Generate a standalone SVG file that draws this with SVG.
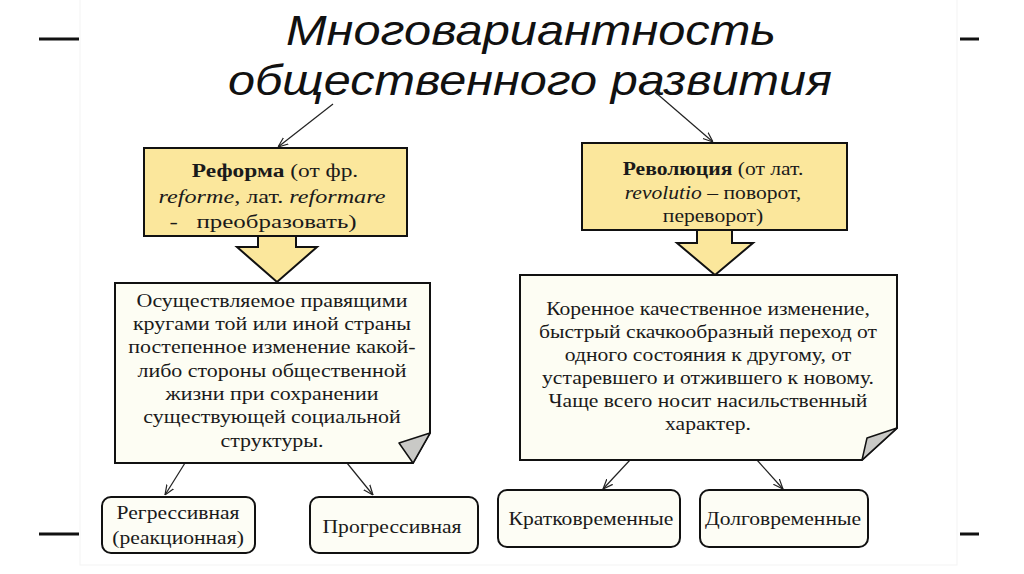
<svg xmlns="http://www.w3.org/2000/svg" width="1024" height="574" viewBox="0 0 1024 574">
  <defs>
    <marker id="open" viewBox="0 0 10 10" refX="10" refY="5" markerWidth="10" markerHeight="10" markerUnits="userSpaceOnUse" orient="auto">
      <path d="M0,1 L10,5 L0,9" fill="none" stroke="#222" stroke-width="1.2"/>
    </marker>
    <style>
      .title { font-family: "Liberation Sans", Arial, sans-serif; font-style: italic; font-size: 43px; fill: #111; }
      .t { font-family: "Liberation Serif", "Times New Roman", serif; font-size: 18px; fill: #1a1a1a; }
      .tb { font-size: 19.5px; }
      .b { font-weight: bold; }
      .i { font-style: italic; }
      .yel { fill: #fbe79c; stroke: #111; stroke-width: 2; }
      .note { fill: #fdfdf3; stroke: #111; stroke-width: 2; }
      .fold { fill: #c9c9c6; stroke: #111; stroke-width: 1.5; stroke-linejoin: round; }
      .small { fill: #fdfdf5; stroke: #111; stroke-width: 2; }
      .conn { stroke: #222; stroke-width: 1.2; fill: none; marker-end: url(#open); }
      .dash { stroke: #111; stroke-width: 3; }
    </style>
  </defs>
  <rect width="1024" height="574" fill="#ffffff"/>
  <rect x="80" y="-2" width="877" height="567" fill="none" stroke="#f3f3f3" stroke-width="1"/>

  <g id="dashes">
    <line class="dash" x1="39" y1="39" x2="79" y2="39"/>
    <line class="dash" x1="960" y1="39" x2="979" y2="39"/>
    <line class="dash" x1="39" y1="534" x2="79" y2="534"/>
    <line class="dash" x1="960" y1="534" x2="979" y2="534"/>
  </g>

  <g id="title">
    <text class="title" x="531" y="45" text-anchor="middle" textLength="490" lengthAdjust="spacingAndGlyphs">Многовариантность</text>
    <text class="title" x="530" y="95" text-anchor="middle" textLength="604" lengthAdjust="spacingAndGlyphs">общественного развития</text>
  </g>

  <g id="connectors">
    <line class="conn" x1="333" y1="104" x2="278" y2="147"/>
    <line class="conn" x1="655" y1="92" x2="713" y2="142"/>
    <line class="conn" x1="185" y1="463" x2="165" y2="495"/>
    <line class="conn" x1="347" y1="463" x2="373" y2="495"/>
    <line class="conn" x1="630" y1="460" x2="603" y2="489"/>
    <line class="conn" x1="757" y1="460" x2="783" y2="489"/>
  </g>

  <g id="reforma">
    <rect class="yel" x="144" y="148" width="263" height="88"/>
    <text class="t tb" transform="translate(275,177) scale(1.2,1)" text-anchor="middle"><tspan class="b">Реформа</tspan> (от фр.</text>
    <text class="t tb" transform="translate(272,202.5) scale(1.24,1)" text-anchor="middle"><tspan class="i">reforme</tspan>, лат. <tspan class="i">reformare</tspan></text>
    <text class="t tb" transform="translate(263,228) scale(1.28,1)" text-anchor="middle" xml:space="preserve">-   преобразовать)</text>
    <polygon class="yel" points="258,236 296,236 296,247 317,247 277,282 237,247 258,247"/>
  </g>

  <g id="revolution">
    <rect class="yel" x="582" y="143" width="265" height="87"/>
    <text class="t" transform="translate(713,175) scale(1.2,1)" text-anchor="middle"><tspan class="b">Революция</tspan> (от лат.</text>
    <text class="t" transform="translate(713,199) scale(1.2,1)" text-anchor="middle"><tspan class="i">revolutio</tspan> – поворот,</text>
    <text class="t" transform="translate(713,222) scale(1.2,1)" text-anchor="middle">переворот)</text>
    <polygon class="yel" points="697,230 732,230 732,243 753,243 715,275 677,243 697,243"/>
  </g>

  <g id="reforma-def">
    <polygon class="note" points="115,283 430,283 430,433 413,463 115,463"/>
    <polygon class="fold" points="430,433 399,443 413,463"/>
    <text class="t" transform="translate(272,307) scale(1.22,1)" text-anchor="middle">Осуществляемое правящими</text>
    <text class="t" transform="translate(272,330) scale(1.22,1)" text-anchor="middle">кругами той или иной страны</text>
    <text class="t" transform="translate(272,353) scale(1.22,1)" text-anchor="middle">постепенное изменение какой-</text>
    <text class="t" transform="translate(272,377) scale(1.22,1)" text-anchor="middle">либо стороны общественной</text>
    <text class="t" transform="translate(272,400) scale(1.22,1)" text-anchor="middle">жизни при сохранении</text>
    <text class="t" transform="translate(272,423) scale(1.22,1)" text-anchor="middle">существующей социальной</text>
    <text class="t" transform="translate(272,447) scale(1.22,1)" text-anchor="middle">структуры.</text>
  </g>

  <g id="revolution-def">
    <polygon class="note" points="520,275 897,275 897,428 862,460 520,460"/>
    <polygon class="fold" points="897,428 867,438 862,460"/>
    <text class="t" transform="translate(708,315) scale(1.2,1)" text-anchor="middle">Коренное качественное изменение,</text>
    <text class="t" transform="translate(708,338) scale(1.2,1)" text-anchor="middle">быстрый скачкообразный переход от</text>
    <text class="t" transform="translate(708,361) scale(1.2,1)" text-anchor="middle">одного состояния к другому, от</text>
    <text class="t" transform="translate(708,384) scale(1.2,1)" text-anchor="middle">устаревшего и отжившего к новому.</text>
    <text class="t" transform="translate(708,407) scale(1.2,1)" text-anchor="middle">Чаще всего носит насильственный</text>
    <text class="t" transform="translate(708,430) scale(1.2,1)" text-anchor="middle">характер.</text>
  </g>

  <g id="regressive">
    <rect class="small" x="102" y="497" width="153" height="56" rx="9"/>
    <text class="t" transform="translate(178,519) scale(1.2,1)" text-anchor="middle">Регрессивная</text>
    <text class="t" transform="translate(178,544) scale(1.2,1)" text-anchor="middle">(реакционная)</text>
  </g>

  <g id="progressive">
    <rect class="small" x="310" y="497" width="168" height="56" rx="9"/>
    <text class="t" transform="translate(392,533) scale(1.2,1)" text-anchor="middle">Прогрессивная</text>
  </g>

  <g id="short-term">
    <rect class="small" x="498" y="490" width="182" height="57" rx="9"/>
    <text class="t" transform="translate(591,525) scale(1.2,1)" text-anchor="middle">Кратковременные</text>
  </g>

  <g id="long-term">
    <rect class="small" x="700" y="490" width="168" height="57" rx="9"/>
    <text class="t" transform="translate(783,525) scale(1.2,1)" text-anchor="middle">Долговременные</text>
  </g>
</svg>
